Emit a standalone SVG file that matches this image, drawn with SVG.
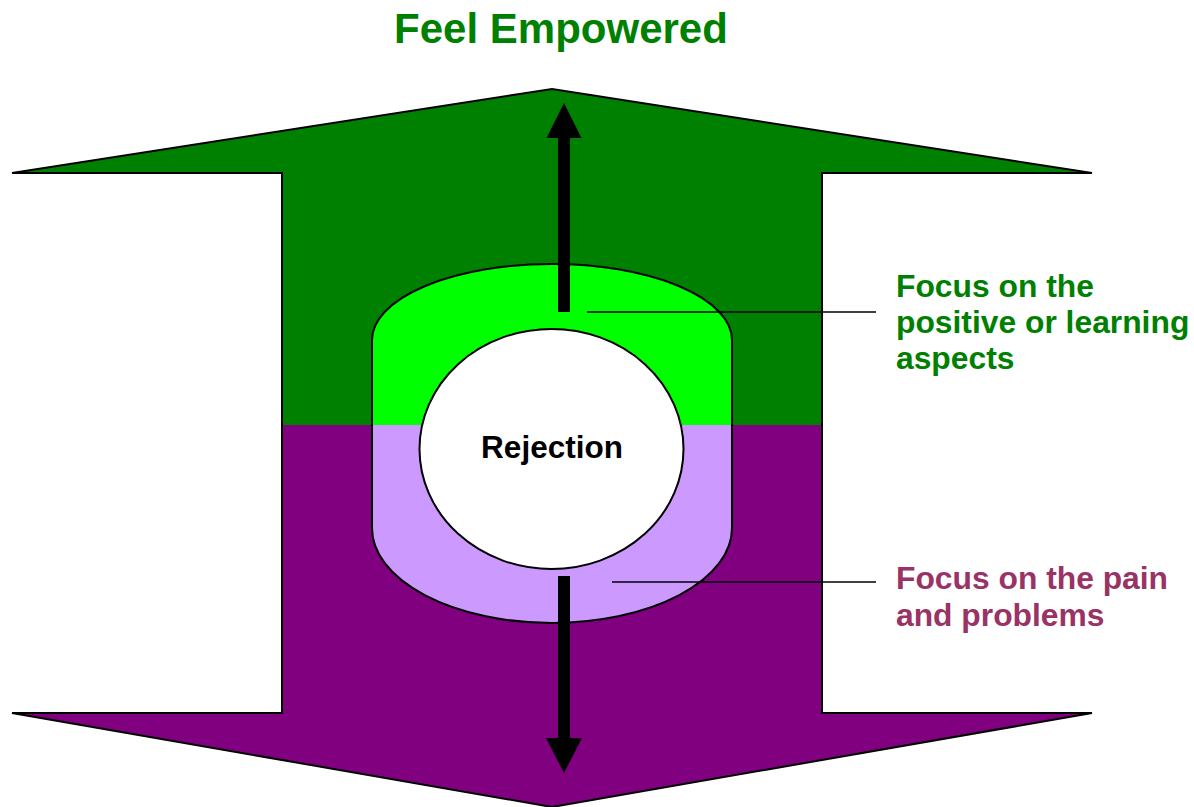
<svg xmlns="http://www.w3.org/2000/svg" width="1194" height="807" viewBox="0 0 1194 807">
  <style>
    .outline { fill: none; stroke: #000; stroke-width: 2; stroke-linejoin: miter; }
    .lbl { font-family: "Liberation Sans", Arial, sans-serif; font-weight: bold; }
    .leader { stroke: #000; stroke-width: 1.5; fill: none; }
  </style>
  <rect width="1194" height="807" fill="#fff"/>

  <!-- upward block arrow (green) -->
  <g id="up-arrow">
    <polygon points="12,173 552,89 1092,173 822,173 822,425 282,425 282,173" fill="#008000"/>
    <polyline class="outline" points="282,425 282,173 12,173 552,89 1092,173 822,173 822,425"/>
  </g>

  <!-- downward block arrow (purple) -->
  <g id="down-arrow">
    <polygon points="282,425 822,425 822,713 1092,713 552,807 12,713 282,713" fill="#800080"/>
    <polyline class="outline" points="282,425 282,713 12,713 552,807 1092,713 822,713 822,425"/>
  </g>

  <!-- inner capsule: positive half and painful half -->
  <g id="positive-band">
    <path d="M372,425 V340 A180,76 0 0 1 732,340 V425 Z" fill="#00FF00"/>
    <path class="outline" d="M372,425 V340 A180,76 0 0 1 732,340 V425"/>
  </g>
  <g id="pain-band">
    <path d="M372,425 V528 A180,95 0 0 0 732,528 V425 Z" fill="#CC99FF"/>
    <path class="outline" d="M372,425 V528 A180,95 0 0 0 732,528 V425"/>
  </g>

  <!-- central node -->
  <g id="rejection">
    <ellipse cx="551.5" cy="449" rx="132" ry="120" fill="#fff" stroke="#000" stroke-width="2"/>
    <text class="lbl" x="552" y="458" font-size="31.5" text-anchor="middle" fill="#000">Rejection</text>
  </g>

  <!-- connectors: direction arrows and leader lines -->
  <g id="connectors">
    <rect x="558" y="136" width="12" height="176" fill="#000"/>
    <polygon points="546.5,138 564,103 581.5,138" fill="#000"/>
    <rect x="558" y="576" width="12" height="164" fill="#000"/>
    <polygon points="546,738 582,738 564,773" fill="#000"/>
    <line class="leader" x1="587" y1="312" x2="876" y2="312"/>
    <line class="leader" x1="612" y1="582" x2="876" y2="582"/>
  </g>

  <!-- labels -->
  <g id="title">
    <text class="lbl" x="561" y="43" font-size="42" text-anchor="middle" fill="#008000">Feel Empowered</text>
  </g>
  <g id="positive-label">
    <text class="lbl" font-size="31.8" fill="#008000">
      <tspan x="896" y="297">Focus on the</tspan>
      <tspan x="896" y="333">positive or learning</tspan>
      <tspan x="896" y="369">aspects</tspan>
    </text>
  </g>
  <g id="pain-label">
    <text class="lbl" font-size="31.8" fill="#993366">
      <tspan x="896" y="589">Focus on the pain</tspan>
      <tspan x="896" y="626">and problems</tspan>
    </text>
  </g>
</svg>
